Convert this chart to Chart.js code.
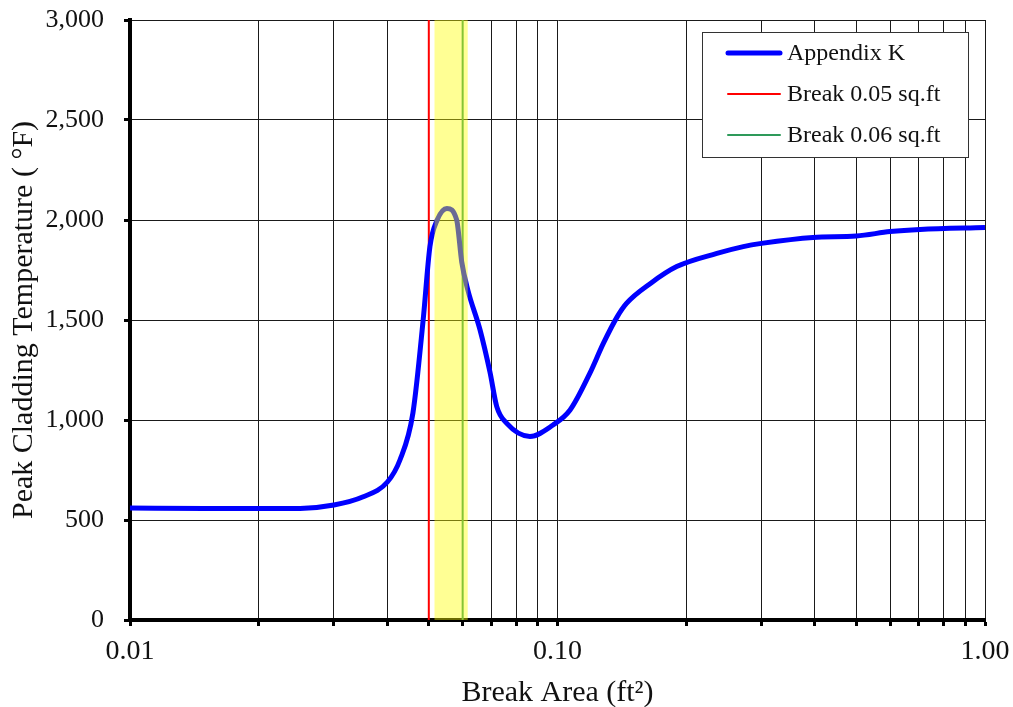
<!DOCTYPE html>
<html>
<head>
<meta charset="utf-8">
<script src="https://cdn.jsdelivr.net/npm/chart.js@4/dist/chart.umd.min.js"></script>
<style>
html,body{margin:0;padding:0;background:#fff;}
#wrap{width:1013px;height:707px;}
</style>
</head>
<body>
<div id="wrap"><canvas id="c" width="1013" height="707"></canvas></div>
<script>
// ---- Data ----
const breakArea = [0.01, 0.015, 0.02, 0.025, 0.03, 0.035, 0.04, 0.0428, 0.0459, 0.0485, 0.0503, 0.0523, 0.0551, 0.0581, 0.0597, 0.0617, 0.0659, 0.0695, 0.0721, 0.0761, 0.0862, 0.0976, 0.107, 0.119, 0.128, 0.138, 0.145, 0.165, 0.19, 0.236, 0.272, 0.30, 0.396, 0.50, 0.60, 0.705, 1.0];
const pctAppendixK = [560, 558, 557, 558, 575, 615, 690, 800, 1035, 1500, 1867, 2000, 2058, 2000, 1790, 1650, 1450, 1240, 1067, 983, 918, 975, 1050, 1233, 1383, 1517, 1583, 1683, 1767, 1833, 1867, 1883, 1913, 1920, 1942, 1953, 1963];
const breakLines = [0.05, 0.06];
const breakLabels = ['Break 0.05 sq.ft', 'Break 0.06 sq.ft'];
const seriesLabel = 'Appendix K';
const bandRange = [0.0515, 0.0617];
const xGridValues = [0.01,0.02,0.03,0.04,0.05,0.06,0.07,0.08,0.09,0.1,0.2,0.3,0.4,0.5,0.6,0.7,0.8,0.9,1];
const xTickValues = [0.01, 0.1, 1];
const xTickLabels = ['0.01', '0.10', '1.00'];
const yMin = 0, yMax = 3000, yStep = 500;
const xTitle = 'Break Area (ft\u00B2)';
const yTitle = 'Peak Cladding Temperature ( \u00B0F)';

const FONT = "'Liberation Serif', 'Times New Roman', serif";

const legendPlugin = {
  id: 'boxLegend',
  afterDraw(chart) {
    const ctx = chart.ctx;
    const x0 = 702, y0 = 32, w = 266, h = 125;
    ctx.save();
    ctx.fillStyle = '#fff';
    ctx.fillRect(x0, y0, w, h);
    ctx.strokeStyle = '#333';
    ctx.lineWidth = 1;
    ctx.strokeRect(x0 + 0.5, y0 + 0.5, w, h);
    const items = chart.data.datasets.filter(d => d.showInLegend);
    const rowY = [53, 94, 135];
    ctx.font = "24px " + FONT;
    ctx.textBaseline = 'middle';
    items.forEach((d, i) => {
      const y = rowY[i];
      ctx.strokeStyle = d.legendColor || d.borderColor;
      ctx.lineWidth = d.borderWidth;
      ctx.lineCap = 'round';
      ctx.beginPath();
      ctx.moveTo(728, y);
      ctx.lineTo(780, y);
      ctx.stroke();
      ctx.fillStyle = '#111';
      ctx.fillText(d.label, 787, y + 1);
    });
    ctx.restore();
  }
};

function zeroPad(scale) {
  scale.paddingTop = 0; scale.paddingBottom = 0;
  scale.paddingLeft = 0; scale.paddingRight = 0;
}

new Chart(document.getElementById('c'), {
  type: 'line',
  data: {
    datasets: [
      {
        label: 'band',
        data: [{x: bandRange[0], y: yMax}, {x: bandRange[1], y: yMax}],
        fill: 'origin',
        backgroundColor: 'rgba(255,255,0,0.42)',
        borderWidth: 0,
        pointRadius: 0,
        order: 0,
        showInLegend: false
      },
      {
        label: seriesLabel,
        data: breakArea.map((v, i) => ({x: v, y: pctAppendixK[i]})),
        borderColor: '#0000ff',
        borderWidth: 5,
        pointRadius: 0,
        cubicInterpolationMode: 'monotone',
        fill: false,
        order: 1,
        showInLegend: true
      },
      {
        label: breakLabels[0],
        data: [{x: breakLines[0], y: yMin}, {x: breakLines[0], y: yMax}],
        borderColor: '#ff0000',
        borderWidth: 2,
        pointRadius: 0,
        fill: false,
        order: 2,
        showInLegend: true
      },
      {
        label: breakLabels[1],
        data: [{x: breakLines[1], y: yMin}, {x: breakLines[1], y: yMax}],
        borderColor: '#2e9a5a',
        borderWidth: 2,
        pointRadius: 0,
        fill: false,
        order: 2,
        showInLegend: true
      }
    ]
  },
  options: {
    responsive: false,
    animation: false,
    layout: {padding: {left: 0, right: 28, top: 20, bottom: 0}},
    plugins: {legend: {display: false}, tooltip: {enabled: false}},
    scales: {
      x: {
        type: 'logarithmic',
        min: 0.01,
        max: 1,
        afterBuildTicks(scale) { scale.ticks = xGridValues.map(v => ({value: v})); },
        afterFit(scale) { scale.height = 87; zeroPad(scale); },
        ticks: {
          autoSkip: false,
          maxRotation: 0,
          padding: 9,
          color: '#111',
          font: {family: FONT, size: 28},
          callback(value) {
            const idx = xTickValues.findIndex(t => Math.abs(t - value) < 1e-9);
            return idx >= 0 ? xTickLabels[idx] : '';
          }
        },
        grid: {color: '#1a1a1a', lineWidth: 1, tickLength: 6, tickWidth: 3, tickColor: '#000', drawTicks: true},
        border: {display: true, color: '#000', width: 4},
        title: {display: true, text: xTitle, color: '#111', font: {family: FONT, size: 30}, padding: {top: 0, bottom: -4}}
      },
      y: {
        min: yMin,
        max: yMax,
        afterFit(scale) { scale.width = 130; zeroPad(scale); },
        ticks: {
          stepSize: yStep,
          padding: 20,
          color: '#111',
          font: {family: FONT, size: 26},
          callback(value) { return value.toLocaleString('en-US'); }
        },
        grid: {color: '#1a1a1a', lineWidth: 1, tickLength: 6, tickWidth: 3, tickColor: '#000'},
        border: {display: true, color: '#000', width: 4},
        title: {display: true, text: yTitle, color: '#111', font: {family: FONT, size: 30}, padding: {top: 6, bottom: 0}}
      }
    }
  },
  plugins: [legendPlugin]
});
</script>
</body>
</html>
